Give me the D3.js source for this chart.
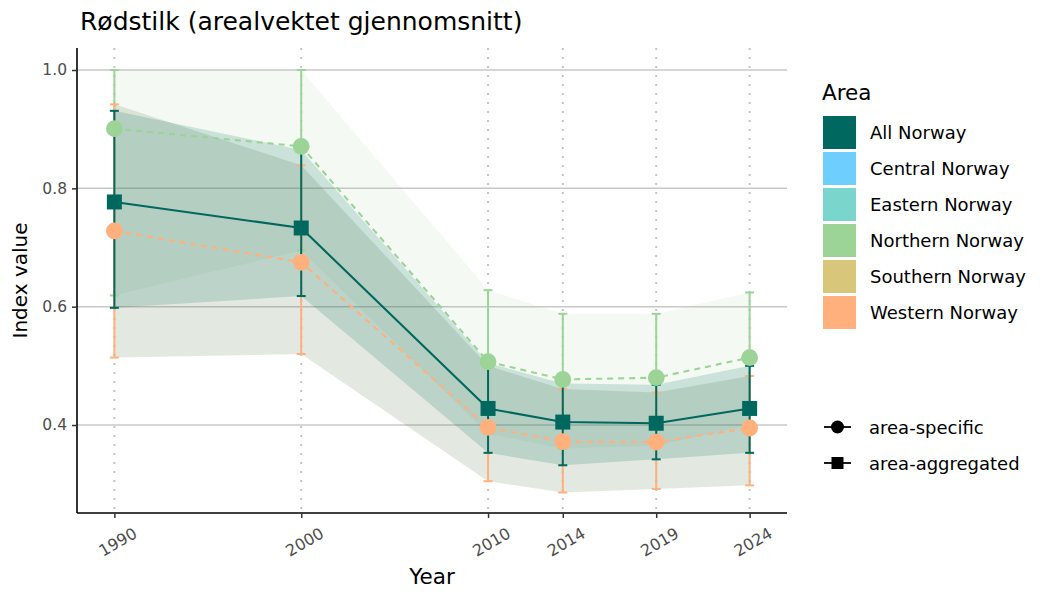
<!DOCTYPE html>
<html>
<head>
<meta charset="utf-8">
<script src="https://cdn.jsdelivr.net/npm/d3@7"></script>
<style>
  html, body { margin: 0; padding: 0; background: #fff; }
  svg { display: block; font-family: "DejaVu Sans", sans-serif; }
</style>
</head>
<body>
<svg id="chart" width="1050" height="600"></svg>
<script>
// ---- data ----
const years = [1990, 2000, 2010, 2014, 2019, 2024];
const yTicks = [0.4, 0.6, 0.8, 1.0];

const allMean  = [0.777, 0.733, 0.428, 0.405, 0.403, 0.428];
const allLow   = [0.598, 0.618, 0.353, 0.332, 0.342, 0.353];
const allHigh  = [0.931, 0.865, 0.505, 0.470, 0.468, 0.500];

const northMean = [0.901, 0.871, 0.507, 0.477, 0.480, 0.514];
const northLow  = [0.619, 0.695, 0.385, 0.360, 0.365, 0.400];
const northHigh = [1.000, 1.000, 0.628, 0.588, 0.588, 0.624];

const westMean = [0.728, 0.675, 0.396, 0.372, 0.371, 0.395];
const westLow  = [0.514, 0.520, 0.305, 0.286, 0.292, 0.298];
const westHigh = [0.942, 0.839, 0.500, 0.461, 0.455, 0.483];

const areaNames  = ["All Norway", "Central Norway", "Eastern Norway", "Northern Norway", "Southern Norway", "Western Norway"];
const areaColors = ["#00685E", "#6ECFFF", "#7AD6CD", "#9BD496", "#D8C77A", "#FFB07C"];
const shapeNames = ["area-specific", "area-aggregated"];

// ---- layout ----
const svg = d3.select("#chart");
const L = 77, R = 787, T = 48, B = 513;
const x = d3.scaleLinear().domain([1988, 2026]).range([L, R]);
const y = d3.scaleLinear().domain([0.2513, 1.0372]).range([B, T]);
const color = d3.scaleOrdinal().domain(areaNames).range(areaColors);

function rows(mean, low, high) {
  return years.map((yr, i) => ({ year: yr, mean: mean[i], low: low[i], high: high[i] }));
}
const series = [
  { name: "Northern Norway", data: rows(northMean, northLow, northHigh), shape: "circle", dash: "6,5",
    ribbon: "#9BD496", ribbonOp: 0.11 },
  { name: "Western Norway", data: rows(westMean, westLow, westHigh), shape: "circle", dash: "6,5",
    ribbon: "#446C30", ribbonOp: 0.15 },
  { name: "All Norway", data: rows(allMean, allLow, allHigh), shape: "square", dash: null,
    ribbon: "#00685E", ribbonOp: 0.17 }
];

// ---- grid ----
svg.append("g").selectAll("line").data(yTicks).join("line")
  .attr("x1", L).attr("x2", R).attr("y1", d => y(d)).attr("y2", d => y(d))
  .attr("stroke", "#C8C8C8").attr("stroke-width", 1.5);
svg.append("g").selectAll("line").data(years).join("line")
  .attr("x1", d => x(d)).attr("x2", d => x(d)).attr("y1", T).attr("y2", B)
  .attr("stroke", "#C4C4C4").attr("stroke-width", 2).attr("stroke-dasharray", "2,7");

// ---- ribbons ----
const area = d3.area().x(d => x(d.year)).y0(d => y(d.low)).y1(d => y(d.high));
svg.append("g").selectAll("path").data(series).join("path")
  .attr("d", s => area(s.data))
  .attr("fill", s => s.ribbon).attr("fill-opacity", s => s.ribbonOp);

// ---- lines ----
const line = d3.line().x(d => x(d.year)).y(d => y(d.mean));
svg.append("g").selectAll("path").data(series).join("path")
  .attr("d", s => line(s.data)).attr("fill", "none")
  .attr("stroke", s => color(s.name)).attr("stroke-width", 2.1)
  .attr("stroke-dasharray", s => s.dash);

// ---- error bars ----
const eb = svg.append("g");
series.forEach(s => {
  const g = eb.append("g").attr("stroke", color(s.name)).attr("stroke-width", 2);
  g.selectAll("line.v").data(s.data).join("line").attr("class", "v")
    .attr("x1", d => x(d.year)).attr("x2", d => x(d.year))
    .attr("y1", d => y(d.low)).attr("y2", d => y(d.high));
  ["low", "high"].forEach(k => {
    g.selectAll("line." + k).data(s.data).join("line").attr("class", k)
      .attr("x1", d => x(d.year) - 4.5).attr("x2", d => x(d.year) + 4.5)
      .attr("y1", d => y(d[k])).attr("y2", d => y(d[k]));
  });
});

// ---- points ----
const pts = svg.append("g");
[series[2], series[0], series[1]].forEach(s => {
  if (s.shape === "square") {
    pts.append("g").selectAll("rect").data(s.data).join("rect")
      .attr("x", d => x(d.year) - 7.5).attr("y", d => y(d.mean) - 7.5)
      .attr("width", 15).attr("height", 15).attr("fill", color(s.name));
  } else {
    pts.append("g").selectAll("circle").data(s.data).join("circle")
      .attr("cx", d => x(d.year)).attr("cy", d => y(d.mean)).attr("r", 8.4)
      .attr("fill", color(s.name));
  }
});

// ---- axes ----
const yAxis = d3.axisLeft(y).tickValues(yTicks).tickFormat(d3.format(".1f")).tickSize(5).tickPadding(5);
const gy = svg.append("g").attr("transform", `translate(${L},0)`).call(yAxis);
gy.select(".domain").attr("d", `M0,${T}V${B}`).attr("stroke", "#000").attr("stroke-width", 1.6);
gy.selectAll(".tick line").attr("stroke", "#333").attr("stroke-width", 1.5);
gy.selectAll(".tick text").attr("fill", "#4D4D4D").style("font-size", "15.5px").style("font-family", "DejaVu Sans");

const xAxis = d3.axisBottom(x).tickValues(years).tickFormat(d3.format("d")).tickSize(5);
const gx = svg.append("g").attr("transform", `translate(0,${B})`).call(xAxis);
gx.select(".domain").attr("d", `M${L},0H${R}`).attr("stroke", "#000").attr("stroke-width", 1.6);
gx.selectAll(".tick line").attr("stroke", "#333").attr("stroke-width", 1.5);
gx.selectAll(".tick text")
  .attr("fill", "#4D4D4D").style("font-size", "16px").style("font-family", "DejaVu Sans")
  .attr("text-anchor", "middle").attr("dy", null).attr("y", null)
  .attr("dominant-baseline", "central")
  .attr("transform", "translate(3,29) rotate(-30)");

// ---- titles ----
svg.append("text").attr("x", 80).attr("y", 30).text("Rødstilk (arealvektet gjennomsnitt)")
  .style("font-size", "25px").attr("fill", "#000");
svg.append("text").attr("x", (L + R) / 2).attr("y", 584).attr("text-anchor", "middle")
  .text("Year").style("font-size", "21.5px");
svg.append("text").attr("transform", `translate(27,${(T + B) / 2}) rotate(-90)`)
  .attr("text-anchor", "middle").text("Index value").style("font-size", "20px");

// ---- legend: area ----
const lg = svg.append("g").attr("transform", "translate(822,0)");
lg.append("text").attr("x", 0).attr("y", 100).text("Area").style("font-size", "21.5px");
const items = lg.selectAll("g.item").data(areaNames).join("g").attr("class", "item")
  .attr("transform", (d, i) => `translate(1,${116 + i * 36})`);
items.append("rect").attr("width", 33).attr("height", 33).attr("fill", d => color(d));
items.append("text").attr("x", 47).attr("y", 16.5).attr("dominant-baseline", "central")
  .text(d => d).style("font-size", "18px");

// ---- legend: shape ----
const sg = svg.append("g").attr("transform", "translate(822,0)");
const sItems = sg.selectAll("g").data(shapeNames).join("g")
  .attr("transform", (d, i) => `translate(0,${427 + i * 36})`);
sItems.append("line").attr("x1", 2).attr("x2", 29).attr("stroke", "#000").attr("stroke-width", 1.8);
sItems.filter((d, i) => i === 0).append("circle").attr("cx", 15.5).attr("r", 6.5).attr("fill", "#000");
sItems.filter((d, i) => i === 1).append("rect").attr("x", 9.5).attr("y", -6).attr("width", 12).attr("height", 12).attr("fill", "#000");
sItems.append("text").attr("x", 47).attr("dominant-baseline", "central").text(d => d).style("font-size", "18px");
</script>
</body>
</html>
